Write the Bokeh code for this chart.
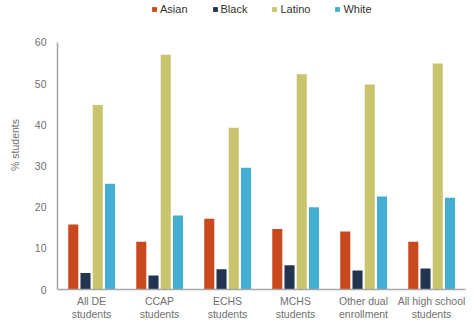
from bokeh.plotting import figure
from bokeh.models import FactorRange, Range1d, Legend, LegendItem, SingleIntervalTicker, ColumnDataSource
from bokeh.transform import dodge
from bokeh.embed import file_html
from bokeh.resources import INLINE

categories = ["All DE\nstudents", "CCAP\nstudents", "ECHS\nstudents", "MCHS\nstudents",
              "Other dual\nenrollment", "All high school\nstudents"]
asian = [15.8, 11.6, 17.2, 14.7, 14.1, 11.6]
black = [4.0, 3.4, 4.9, 5.9, 4.6, 5.1]
latino = [44.8, 57.0, 39.3, 52.3, 49.8, 54.9]
white = [25.7, 18.0, 29.6, 20.0, 22.6, 22.3]
series = ["Asian", "Black", "Latino", "White"]
colors = ["#c9491c", "#22344f", "#c8c56e", "#44aed2"]
y_ticks_max = 60

FONT = "Liberation Sans"

src = ColumnDataSource(dict(cat=categories, Asian=asian, Black=black, Latino=latino, White=white))

p = figure(x_range=FactorRange(*categories), y_range=Range1d(0, 70.2),
           width=474, height=325, output_backend="svg", toolbar_location=None,
           min_border_left=57, min_border_right=9, min_border_top=0, min_border_bottom=36)
p.outline_line_color = None
p.xgrid.grid_line_color = None
p.ygrid.grid_line_color = None
p.x_range.range_padding = 0

offsets = [-0.268, -0.088, 0.092, 0.272]
renderers = []
for s, c, o in zip(series, colors, offsets):
    r = p.vbar(x=dodge("cat", o, range=p.x_range), top=s, width=0.148, source=src,
               fill_color=c, line_color=None)
    renderers.append(r)

p.yaxis.ticker = SingleIntervalTicker(interval=10)
p.yaxis.bounds = (0, y_ticks_max)
p.yaxis.axis_label = "% students"
p.yaxis.axis_label_text_font = FONT
p.yaxis.axis_label_text_font_style = "normal"
p.yaxis.axis_label_text_font_size = "10.5px"
p.yaxis.axis_label_text_color = "#707070"
p.yaxis.axis_label_standoff = 11

for ax in (p.xaxis, p.yaxis):
    ax.axis_line_color = "#a6a6a6"
    ax.axis_line_width = 1.5
    ax.major_tick_line_color = None
    ax.minor_tick_line_color = None
    ax.major_label_text_font = FONT
    ax.major_label_text_font_size = "10.5px"
    ax.major_label_text_color = "#707070"
    ax.major_tick_out = 0
    ax.major_tick_in = 0
p.yaxis.major_label_standoff = 7
p.xaxis.major_label_standoff = 5
p.xaxis.major_label_text_line_height = 1.15
p.xaxis.major_label_orientation = "horizontal"

legend = Legend(items=[LegendItem(label=s, renderers=[r]) for s, r in zip(series, renderers)],
                orientation="horizontal", location=(94, 274),
                glyph_width=6, glyph_height=6, label_standoff=3, spacing=24,
                padding=0, margin=0, border_line_color=None, background_fill_alpha=0,
                label_text_font=FONT, label_text_font_size="11px", label_text_color="#333333",
                label_height=12)
p.add_layout(legend, "center")

open("out.html", "w").write(file_html(p, INLINE))
